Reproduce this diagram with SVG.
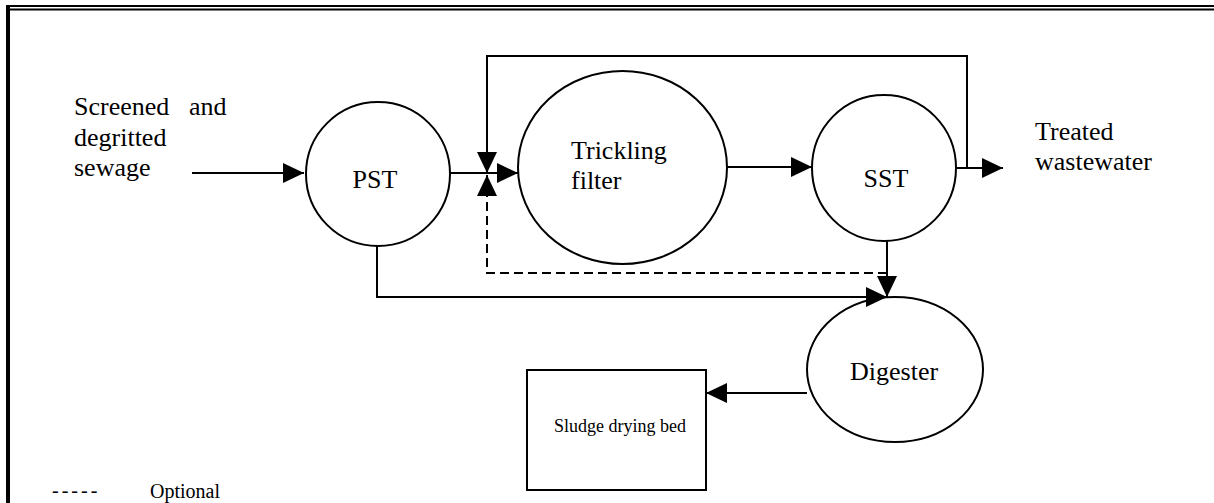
<svg xmlns="http://www.w3.org/2000/svg" width="1214" height="503" viewBox="0 0 1214 503">
  <style>
    text { font-family: "Liberation Serif", "Times New Roman", serif; font-size: 26px; fill: #000; }
    .shape { fill: none; stroke: #000; stroke-width: 2; }
    .flow { fill: none; stroke: #000; stroke-width: 2; }
    .dash { stroke-dasharray: 9 5; }
    .small { font-size: 18px; }
    .legend { font-size: 20px; }
  </style>
  <defs>
    <marker id="arrow" markerUnits="userSpaceOnUse" markerWidth="22" markerHeight="20" refX="21" refY="10" orient="auto" overflow="visible">
      <path d="M0,0 L21,10 L0,20 Z" fill="#000"/>
    </marker>
  </defs>

  <rect width="1214" height="503" fill="#fff"/>

  <!-- page frame -->
  <g id="frame">
    <line x1="6" y1="6" x2="1214" y2="6" stroke="#000" stroke-width="2"/>
    <line x1="8" y1="9.5" x2="1214" y2="9.5" stroke="#000" stroke-width="2.2"/>
    <line x1="8" y1="5" x2="8" y2="503" stroke="#000" stroke-width="4"/>
  </g>

  <!-- connectors -->
  <g id="connectors">
    <path class="flow" d="M192,173 H304" marker-end="url(#arrow)"/>
    <path class="flow" d="M450,173 H518" marker-end="url(#arrow)"/>
    <path class="flow" d="M967,168 V56 H487 V173" marker-end="url(#arrow)"/>
    <path class="flow dash" d="M887,273 H487 V175" marker-end="url(#arrow)"/>
    <path class="flow" d="M727,167 H812" marker-end="url(#arrow)"/>
    <path class="flow" d="M956,168 H1003" marker-end="url(#arrow)"/>
    <path class="flow" d="M887,241 V297" marker-end="url(#arrow)"/>
    <path class="flow" d="M377,246 V297 H887" marker-end="url(#arrow)"/>
    <path class="flow" d="M807,393 H706" marker-end="url(#arrow)"/>
  </g>

  <g id="inlet-label">
    <text x="74" y="115">Screened</text>
    <text x="189" y="115">and</text>
    <text x="74" y="146">degritted</text>
    <text x="74" y="176">sewage</text>
  </g>

  <g id="pst">
    <circle class="shape" cx="378" cy="174" r="72"/>
    <text x="375" y="188" text-anchor="middle">PST</text>
  </g>

  <g id="trickling-filter">
    <ellipse class="shape" cx="622.5" cy="167.5" rx="104.5" ry="96.5"/>
    <text x="571" y="159">Trickling</text>
    <text x="571" y="189">filter</text>
  </g>

  <g id="sst">
    <ellipse class="shape" cx="884" cy="168" rx="72" ry="73"/>
    <text x="886" y="187" text-anchor="middle">SST</text>
  </g>

  <g id="outlet-label">
    <text x="1035" y="140">Treated</text>
    <text x="1035" y="170">wastewater</text>
  </g>

  <g id="digester">
    <ellipse class="shape" cx="895" cy="369.5" rx="88" ry="72.5"/>
    <text x="850" y="380">Digester</text>
  </g>

  <g id="sludge-drying-bed">
    <rect class="shape" x="527" y="370" width="179" height="120"/>
    <text class="small" x="554" y="432">Sludge drying bed</text>
  </g>

  <g id="legend">
    <text class="legend" x="52" y="497" letter-spacing="3">-----</text>
    <text class="legend" x="150" y="498">Optional</text>
  </g>
</svg>
